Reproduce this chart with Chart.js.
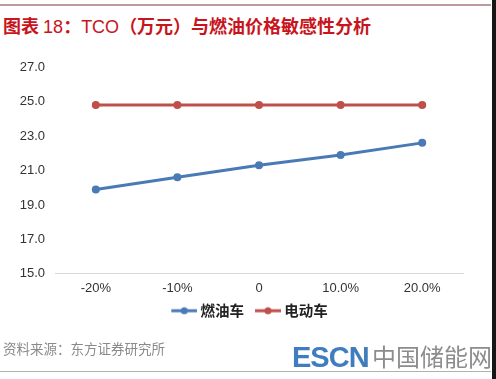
<!DOCTYPE html>
<html>
<head>
<meta charset="utf-8">
<script src="https://cdn.jsdelivr.net/npm/chart.js@4"></script>
<style>
  html, body { margin: 0; padding: 0; background: #fff; }
  #wrap { position: relative; width: 496px; height: 379px; overflow: hidden; }
  #chart { position: absolute; left: 0; top: 0; }
  .topline { position: absolute; left: 0; top: 4px; width: 491px; height: 2px; background: #bf9a9a; }
  .botline { position: absolute; left: 0; top: 371px; width: 491px; height: 1px; background: #b0b0b0; }
  .edge { position: absolute; left: 492px; top: 0; width: 4px; height: 379px; background: #161616; }
  .title { position: absolute; left: 3px; top: 13px; font-size: 18px; color: #c8141c; white-space: nowrap;
           font-family: "Noto Sans CJK SC", sans-serif; font-weight: bold; line-height: 24px; }
  .title .lat { font-family: "Liberation Sans", Arial, sans-serif; font-weight: normal; }
  .source { position: absolute; left: 3px; top: 339px; font-size: 13.5px; color: #8a8a8a; white-space: nowrap;
            font-family: "Noto Sans CJK SC", sans-serif; line-height: 18px; }
  .logo1 { position: absolute; left: 292px; top: 340px; font-size: 29px; color: #3f7dbf; font-weight: bold;
           font-family: "Liberation Sans", Arial, sans-serif; letter-spacing: -1px; line-height: 34px; }
  .logo2 { position: absolute; left: 372px; top: 339px; font-size: 24px; color: #8c8c8c; white-space: nowrap;
           font-family: "Noto Sans CJK SC", sans-serif; line-height: 34px; }
</style>
</head>
<body>
<div id="wrap">
  <div class="topline"></div>
  <div class="title">图表 <span class="lat">18</span>：<span class="lat">TCO</span>（万元）与燃油价格敏感性分析</div>
  <canvas id="chart" width="496" height="379"></canvas>
  <div class="source">资料来源：东方证券研究所</div>
  <div class="logo1">ESCN</div>
  <div class="logo2">中国储能网</div>
  <div class="botline"></div>
  <div class="edge"></div>
</div>
<script>
const categories = ['-20%', '-10%', '0', '10.0%', '20.0%'];
const fuelCar = [19.9, 20.6, 21.3, 21.9, 22.6];
const electricCar = [24.8, 24.8, 24.8, 24.8, 24.8];
const seriesNames = ['燃油车', '电动车'];
const yMin = 15, yMax = 27, yStep = 2;

const BLUE = '#4a7ab5';
const RED = '#bf4f4a';

// legend box is wider than the icon so the items sit further apart;
// the line+dot is drawn at the right end of the image, close to the text
const ICON_BOX = 33;
function legendIcon(color){
  const c = document.createElement('canvas');
  c.width = ICON_BOX + 8; c.height = 10;
  const g = c.getContext('2d');
  const x0 = c.width - 26;
  g.strokeStyle = color; g.lineWidth = 3;
  g.beginPath(); g.moveTo(x0, 5); g.lineTo(c.width, 5); g.stroke();
  g.fillStyle = color;
  g.beginPath(); g.arc(x0 + 13, 5, 3.5, 0, Math.PI * 2); g.fill();
  return c;
}

const ctx = document.getElementById('chart').getContext('2d');
new Chart(ctx, {
  type: 'line',
  data: {
    labels: categories,
    datasets: [
      { label: seriesNames[0], data: fuelCar, borderColor: BLUE, backgroundColor: BLUE,
        borderWidth: 3, pointRadius: 4, pointBackgroundColor: BLUE, pointBorderWidth: 0, tension: 0 },
      { label: seriesNames[1], data: electricCar, borderColor: RED, backgroundColor: RED,
        borderWidth: 3, pointRadius: 4, pointBackgroundColor: RED, pointBorderWidth: 0, tension: 0 }
    ]
  },
  options: {
    responsive: false,
    animation: false,
    layout: { padding: { left: 0, right: 8, top: 67, bottom: 51 } },
    plugins: {
      tooltip: { enabled: false },
      legend: {
        position: 'bottom',
        labels: {
          usePointStyle: true,
          pointStyleWidth: ICON_BOX,
          padding: 0,
          color: '#222',
          font: { family: '"Noto Sans CJK SC", sans-serif', size: 14.5, weight: 'bold' },
          generateLabels: (chart) => chart.data.datasets.map((ds, i) => ({
            text: ds.label,
            pointStyle: legendIcon(ds.borderColor),
            fillStyle: ds.borderColor,
            strokeStyle: ds.borderColor,
            lineWidth: 0,
            fontColor: '#222',
            datasetIndex: i
          }))
        }
      }
    },
    scales: {
      x: {
        offset: true,
        grid: { display: false, drawTicks: false },
        border: { display: true, color: '#d9d9d9', width: 1 },
        ticks: { color: '#333', padding: 7, font: { family: '"Liberation Sans", Arial, sans-serif', size: 13 } }
      },
      y: {
        min: yMin, max: yMax,
        afterFit: (s) => { s.width = 55; },
        grid: { display: false, drawTicks: false },
        border: { display: false },
        ticks: {
          stepSize: yStep,
          color: '#333',
          padding: 10,
          font: { family: '"Liberation Sans", Arial, sans-serif', size: 13 },
          callback: (v) => v.toFixed(1)
        }
      },
      // empty right-hand axis, only reserves the blank margin right of the plot
      yRight: {
        position: 'right',
        min: yMin, max: yMax,
        afterFit: (s) => { s.width = 25; },
        grid: { display: false, drawTicks: false },
        border: { display: false },
        ticks: { display: false }
      }
    }
  }
});
</script>
</body>
</html>
